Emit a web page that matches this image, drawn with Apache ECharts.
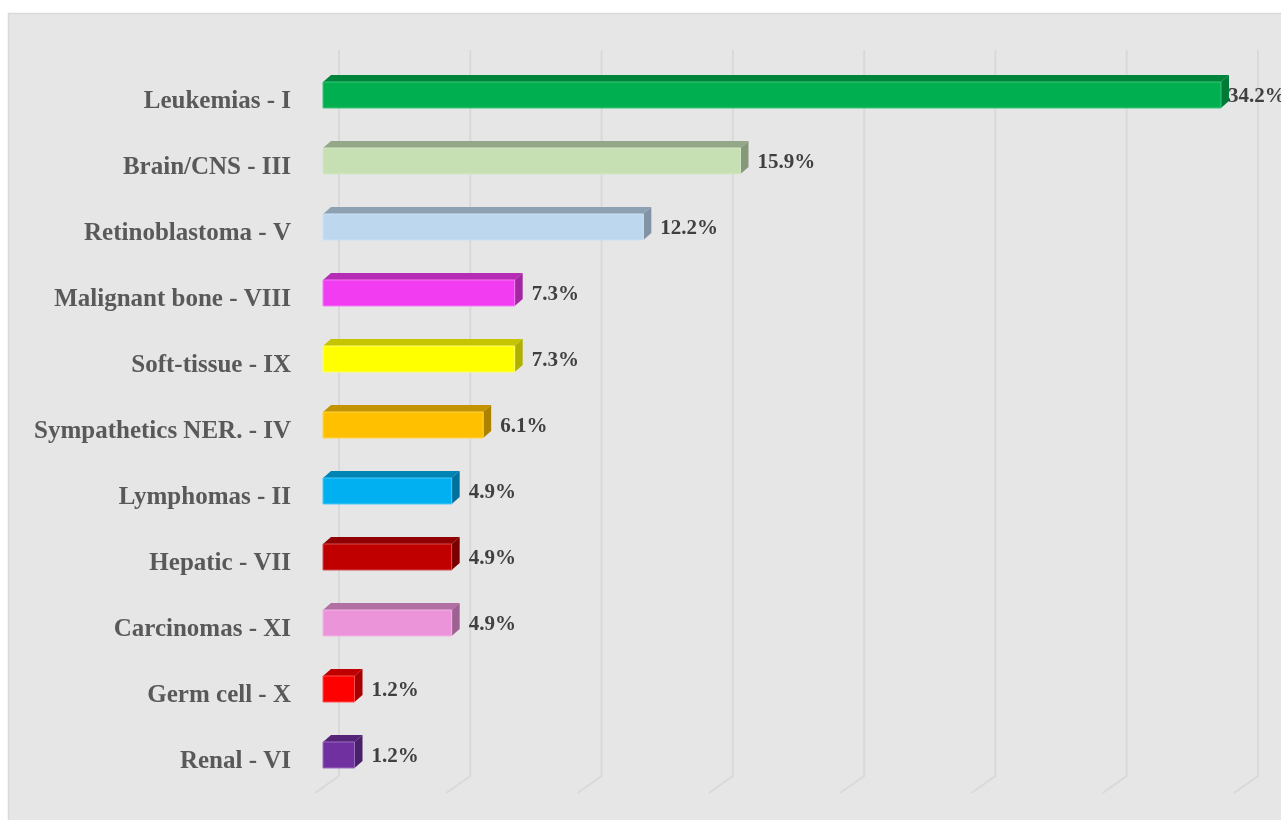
<!DOCTYPE html>
<html>
<head>
<meta charset="utf-8">
<script src="https://cdn.jsdelivr.net/npm/echarts@6/dist/echarts.min.js"></script>
<style>
html,body{margin:0;padding:0;background:#fff;}
#chart{width:1281px;height:820px;}
</style>
</head>
<body>
<div id="chart"></div>
<script>
const categories = ['Leukemias - I','Brain/CNS - III','Retinoblastoma - V','Malignant bone - VIII','Soft-tissue - IX','Sympathetics NER. - IV','Lymphomas - II','Hepatic - VII','Carcinomas - XI','Germ cell - X','Renal - VI'];
const values = [34.2, 15.9, 12.2, 7.3, 7.3, 6.1, 4.9, 4.9, 4.9, 1.2, 1.2];
const ticks = [0, 5, 10, 15, 20, 25, 30, 35];

const frontColors = ['#00b050','#c6e0b4','#bdd7ee','#f23cf2','#ffff00','#ffc000','#00b0f0','#c00000','#ec94da','#ff0000','#7030a0'];
const topColors   = ['#00843c','#94a887','#8ea1b2','#b52db5','#c4c400','#c49300','#0084b4','#900000','#b16fa4','#c00000','#542478'];
const sideColors  = ['#007a36','#86987a','#8193a4','#a326a3','#b0b000','#ad8200','#00719c','#7a0000','#9d6292','#a80000','#4a206a'];
const borderColors= ['#3fc47c','#d3e8c4','#cde1f3','#f67af6','#ffff66','#ffd24d','#4dc8f5','#d34d4d','#f2b4e6','#ff5050','#9a6cbf'];

const FONT = '"Liberation Serif", serif';
const chart = echarts.init(document.getElementById('chart'), null, {renderer: 'canvas'});

function renderGrid(params, api) {
  const x = api.coord([api.value(0), 0])[0];
  return {
    type: 'polyline',
    shape: {points: [[x + 16, 50], [x + 16, 776], [x - 8, 793]]},
    style: {stroke: '#d9d9d9', lineWidth: 2, fill: null},
    silent: true
  };
}

function renderBar(params, api) {
  const i = params.dataIndex;
  const v = api.value(0);
  const p0 = api.coord([0, api.value(1)]);
  const p1 = api.coord([v, api.value(1)]);
  const h = 26, dx = 8, dy = 7;
  const x0 = p0[0], x1 = p1[0], yc = p0[1];
  const yt = yc - h / 2, yb = yc + h / 2;
  const lx = Math.min(x1 + dx + 9, api.getWidth() - 53);
  return {
    type: 'group',
    children: [
      {type: 'polygon', shape: {points: [[x0, yt], [x0 + dx, yt - dy], [x1 + dx, yt - dy], [x1, yt]]},
        style: {fill: topColors[i]}},
      {type: 'polygon', shape: {points: [[x1, yt], [x1 + dx, yt - dy], [x1 + dx, yb - dy], [x1, yb]]},
        style: {fill: sideColors[i]}},
      {type: 'rect', shape: {x: x0, y: yt, width: x1 - x0, height: h},
        style: {fill: frontColors[i], stroke: borderColors[i], lineWidth: 1}},
      {type: 'text', x: lx, y: yc + 2,
        style: {text: v.toFixed(1) + '%', fill: '#404040', font: 'bold 21px ' + FONT, verticalAlign: 'middle', align: 'left'}}
    ]
  };
}

chart.setOption({
  animation: false,
  graphic: [{
    type: 'rect', z: -10, silent: true,
    shape: {x: 8.5, y: 13.5, width: 1290, height: 820},
    style: {fill: '#e6e6e6', stroke: '#d9d9d9', lineWidth: 1.5}
  }],
  grid: {left: 323, right: 39, top: 62, bottom: 32},
  xAxis: {
    type: 'value', min: 0, max: 35, interval: 5,
    axisLabel: {show: false}, axisLine: {show: false}, axisTick: {show: false}, splitLine: {show: false}
  },
  yAxis: {
    type: 'category', data: categories, inverse: true,
    axisLine: {show: false}, axisTick: {show: false}, splitLine: {show: false},
    axisLabel: {
      margin: 32,
      formatter: v => '{a|' + v + '}',
      rich: {a: {color: '#595959', fontFamily: FONT, fontWeight: 'bold', fontSize: 25, padding: [14, 0, 0, 0]}}
    }
  },
  series: [
    {type: 'custom', renderItem: renderGrid, data: ticks.map(t => [t]), encode: {x: 0}, z: 1, silent: true, clip: false},
    {type: 'custom', renderItem: renderBar, data: values.map((v, i) => [v, i]), encode: {x: 0, y: 1}, z: 2, clip: false}
  ]
});
</script>
</body>
</html>
